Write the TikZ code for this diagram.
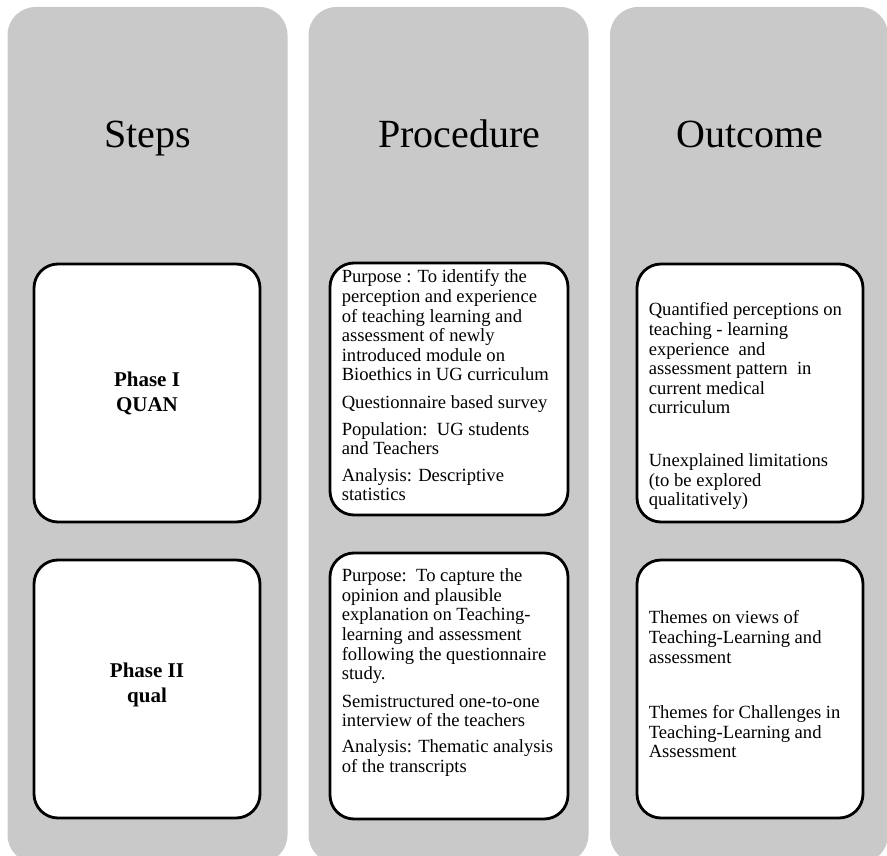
\documentclass[tikz,border=0pt]{standalone}
\usepackage{fontspec}
\setmainfont{Liberation Serif}
\usepackage{tikz}
\definecolor{colgray}{RGB}{201,201,201}

\begin{document}
\begin{tikzpicture}[x=1pt, y=-1pt,
    column/.style={fill=colgray, rounded corners=28pt, inner sep=0pt},
    header/.style={font=\fontsize{40}{42}\selectfont, anchor=base},
    stepbox/.style={draw=black, line width=2.8pt, fill=white, rounded corners=24pt, inner sep=0pt},
    steplabel/.style={font=\bfseries\fontsize{21}{25}\selectfont, align=center},
    bodytext/.style={font=\fontsize{18.6}{19.6}\selectfont, align=left, anchor=north west, inner sep=0pt}]
      \useasboundingbox (0,0) rectangle (887,856);
      \clip (0,0) rectangle (887,856);

      \node[column, minimum width=280pt, minimum height=856pt] (steps) at (147.5,435) {};
      \node[column, minimum width=280pt, minimum height=856pt] (proc) at (448.5,435) {};
      \node[column, minimum width=278pt, minimum height=856pt] (outc) at (749,435) {};

      \node[header] (stepshd) at (147.5,148) {Steps};
      \node[header] (prochd) at (459.5,148) {Procedure};
      \node[header] (outchd) at (750,148) {Outcome};

      \node[stepbox, minimum width=226pt, minimum height=258pt] (phasea) at (147,393) {};
      \node[stepbox, minimum width=226pt, minimum height=258pt] (phaseb) at (147,689) {};
      \node[stepbox, minimum width=238pt, minimum height=252pt] (proca) at (449,389) {};
      \node[stepbox, minimum width=238pt, minimum height=266pt] (procb) at (449,686) {};
      \node[stepbox, minimum width=226pt, minimum height=258pt] (outca) at (750,393) {};
      \node[stepbox, minimum width=226pt, minimum height=258pt] (outcb) at (750,689) {};

      \node[steplabel] (phasealbl) at (phasea) {Phase I\\QUAN};
      \node[steplabel] (phaseblbl) at (147,685) {Phase II\\qual};

      \node[bodytext] (procatxt) at ([xshift=13pt,yshift=-8pt]proca.north west)
        {Purpose : To identify the\\perception and experience\\of teaching learning and\\assessment of newly\\introduced module on\\Bioethics in UG curriculum\\[8pt]Questionnaire based survey\\[7pt]Population:\ \ UG students\\and Teachers\\[7pt]Analysis: Descriptive\\statistics};
      \node[bodytext] (procbtxt) at ([xshift=13pt,yshift=-17pt]procb.north west)
        {Purpose:\ \ To capture the\\opinion and plausible\\explanation on Teaching-\\learning and assessment\\following the questionnaire\\study.\\[8pt]Semistructured one-to-one\\interview of the teachers\\[6pt]Analysis: Thematic analysis\\of the transcripts};
      \node[bodytext] (outcatxt) at ([xshift=13pt,yshift=-40pt]outca.north west)
        {Quantified perceptions on\\teaching - learning\\experience\ \ and\\assessment pattern\ \ in\\current medical\\curriculum\\[33pt]Unexplained limitations\\(to be explored\\qualitatively)};
      \node[bodytext] (outcbtxt) at ([xshift=13pt,yshift=-52pt]outcb.north west)
        {Themes on views of\\Teaching-Learning and\\assessment\\[36pt]Themes for Challenges in\\Teaching-Learning and\\Assessment};
\end{tikzpicture}
\end{document}
